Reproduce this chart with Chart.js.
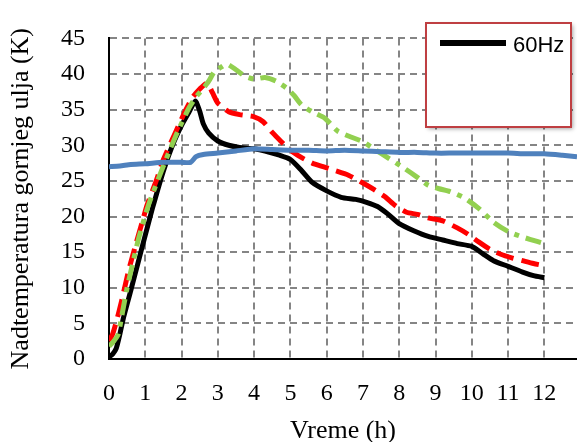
<!DOCTYPE html>
<html>
<head>
<meta charset="utf-8">
<script src="https://cdn.jsdelivr.net/npm/chart.js@4.4.0/dist/chart.umd.min.js"></script>
<style>
    html, body { margin: 0; padding: 0; background: #fff; }
    #wrap { width: 577px; height: 442px; }
</style>
</head>
<body>
<div id="wrap"><canvas id="oilChart" width="577" height="442"></canvas></div>
<script>
const xTicks = [0, 1, 2, 3, 4, 5, 6, 7, 8, 9, 10, 11, 12]
const yTicks = [0, 5, 10, 15, 20, 25, 30, 35, 40, 45]

// plava linija
const blueTime = [0, 0.3, 0.6, 1.0, 1.5, 2.0, 2.25, 2.4, 2.6, 3.0, 3.5, 4.0, 4.5, 5.0, 5.5, 6.0, 6.5, 7.0, 7.5, 8.0, 8.5, 9.0, 9.5, 10.0, 10.5, 11.0, 11.5, 12.0, 12.5, 12.9]
const blueTemp = [27.0, 27.1, 27.3, 27.4, 27.6, 27.6, 27.6, 28.4, 28.7, 28.9, 29.2, 29.5, 29.4, 29.3, 29.3, 29.2, 29.3, 29.2, 29.1, 29.0, 29.0, 28.9, 28.9, 28.9, 28.9, 28.9, 28.8, 28.8, 28.6, 28.4]

// 60Hz
const blackTime = [0, 0.1, 0.2, 0.3, 0.4, 0.6, 0.8, 1.0, 1.2, 1.5, 1.75, 2.0, 2.2, 2.38, 2.5, 2.6, 2.75, 3.0, 3.3, 3.6, 4.0, 4.3, 4.7, 5.0, 5.3, 5.6, 6.0, 6.4, 6.8, 7.1, 7.4, 7.7, 8.0, 8.4, 8.8, 9.2, 9.6, 10.0, 10.3, 10.6, 11.0, 11.4, 11.7, 12.0]
const blackTemp = [0.3, 0.7, 1.5, 3.5, 5.8, 9.6, 13.5, 17.4, 21.2, 26.4, 30.0, 32.8, 34.6, 36.2, 34.8, 33.0, 31.7, 30.6, 30.0, 29.7, 29.5, 29.2, 28.6, 28.0, 26.5, 24.8, 23.6, 22.7, 22.4, 22.0, 21.4, 20.3, 19.0, 18.0, 17.2, 16.7, 16.2, 15.8, 14.8, 13.8, 13.0, 12.2, 11.7, 11.4]

// crvena isprekidana
const redTime = [0, 0.1, 0.2, 0.35, 0.55, 0.75, 0.92, 1.05, 1.3, 1.5, 1.85, 2.1, 2.3, 2.5, 2.7, 2.85, 3.0, 3.3, 3.6, 4.0, 4.25, 4.5, 4.75, 5.0, 5.3, 5.6, 5.9, 6.2, 6.6, 7.0, 7.3, 7.6, 7.9, 8.2, 8.5, 8.8, 9.2, 9.6, 9.9, 10.2, 10.5, 10.8, 11.1, 11.4, 11.7, 12.0]
const redTemp = [2.5, 3.5, 5.2, 8.2, 12.6, 16.3, 19.3, 21.6, 25.0, 28.0, 32.0, 34.8, 36.7, 37.9, 38.7, 37.4, 35.9, 34.7, 34.3, 34.0, 33.3, 31.8, 30.5, 29.3, 28.3, 27.5, 27.0, 26.5, 25.8, 24.7, 23.8, 22.8, 21.5, 20.6, 20.3, 19.8, 19.4, 18.4, 17.5, 16.4, 15.4, 14.7, 14.2, 13.8, 13.4, 13.1]

// zelena crta-tacka
const greenTime = [0, 0.1, 0.25, 0.35, 0.5, 0.68, 0.82, 1.1, 1.4, 1.65, 1.9, 2.2, 2.4, 2.6, 2.75, 2.9, 3.1, 3.25, 3.5, 3.75, 4.0, 4.3, 4.6, 4.9, 5.1, 5.3, 5.6, 5.95, 6.3, 6.6, 7.0, 7.3, 7.7, 8.1, 8.5, 8.8, 9.1, 9.4, 9.8, 10.2, 10.6, 11.0, 11.3, 11.6, 12.0]
const greenTemp = [1.8, 2.3, 3.4, 6.0, 10.0, 14.0, 17.0, 21.8, 25.8, 29.0, 32.0, 35.2, 36.8, 38.0, 39.0, 40.3, 41.0, 41.4, 40.6, 39.7, 39.3, 39.5, 39.0, 38.0, 37.0, 35.7, 34.7, 33.8, 32.0, 31.3, 30.5, 29.5, 28.2, 26.9, 25.5, 24.4, 23.9, 23.5, 22.6, 21.1, 19.2, 17.9, 17.3, 16.8, 16.2]

const toPoints = (times, temps) => times.map((t, i) => ({ x: t, y: temps[i] }))

const serifFont = (size) => ({ family: "'Liberation Serif', 'Times New Roman', serif", size: size, weight: "normal" })

const legendBox = {
    id: "legendBox",
    afterDraw: (chart) => {
        const ctx = chart.ctx
        const left = 426, top = 23, w = 145, h = 104
        ctx.save()
        ctx.shadowColor = "rgba(0, 0, 0, 0.35)"
        ctx.shadowBlur = 4
        ctx.shadowOffsetX = 2
        ctx.shadowOffsetY = 2
        ctx.fillStyle = "#ffffff"
        ctx.fillRect(left, top, w, h)
        ctx.restore()

        ctx.save()
        ctx.strokeStyle = "#bf3f42"
        ctx.lineWidth = 2
        ctx.strokeRect(left, top, w, h)

        const ds = chart.data.datasets.find(d => d.label === "60Hz")
        ctx.strokeStyle = ds.borderColor
        ctx.lineWidth = 6
        ctx.beginPath()
        ctx.moveTo(left + 14, top + 20)
        ctx.lineTo(left + 80, top + 20)
        ctx.stroke()

        ctx.fillStyle = "#000"
        ctx.font = "22px 'Liberation Sans', Arial, sans-serif"
        ctx.textBaseline = "alphabetic"
        ctx.textAlign = "left"
        ctx.fillText(ds.label, left + 87, top + 29)
        ctx.restore()
    }
}

const ctx = document.getElementById("oilChart").getContext("2d")

new Chart(ctx, {
    type: "line",
    data: {
        datasets: [
            {
                label: "",
                data: toPoints(blueTime, blueTemp),
                borderColor: "#4f81bd",
                borderWidth: 5,
                tension: 0.2,
                order: 0
            },
            {
                label: "",
                data: toPoints(greenTime, greenTemp),
                borderColor: "#92d050",
                borderWidth: 5,
                borderDash: [16, 7, 5, 7],
                borderCapStyle: "butt",
                tension: 0.2,
                order: 1
            },
            {
                label: "",
                data: toPoints(redTime, redTemp),
                borderColor: "#ff0000",
                borderWidth: 5,
                borderDash: [18, 8],
                borderCapStyle: "butt",
                tension: 0.2,
                order: 2
            },
            {
                label: "60Hz",
                data: toPoints(blackTime, blackTemp),
                borderColor: "#000000",
                borderWidth: 5,
                tension: 0.2,
                order: 3
            }
        ]
    },
    options: {
        responsive: false,
        animation: false,
        devicePixelRatio: 1,
        layout: { padding: { top: 20, right: 0, bottom: 0, left: 0 } },
        elements: { point: { radius: 0 } },
        plugins: {
            legend: { display: false },
            tooltip: { enabled: false }
        },
        scales: {
            x: {
                type: "linear",
                min: 0,
                max: 12.9,
                afterBuildTicks: (scale) => { scale.ticks = xTicks.map(v => ({ value: v })) },
                afterFit: (scale) => { scale.height = 83 },
                grid: { color: "#858585", lineWidth: 2, drawTicks: false },
                border: { display: true, color: "#000000", width: 2, dash: [7, 5] },
                ticks: { padding: 20, color: "#000", font: serifFont(24), autoSkip: false, maxRotation: 0 },
                title: { display: true, text: "Vreme (h)", color: "#000", font: serifFont(26), padding: { top: 0, bottom: -5 } }
            },
            y: {
                min: 0,
                max: 45,
                afterBuildTicks: (scale) => { scale.ticks = yTicks.map(v => ({ value: v })) },
                afterFit: (scale) => { scale.width = 109 },
                grid: { color: "#858585", lineWidth: 2, drawTicks: false },
                border: { display: true, color: "#000000", width: 2, dash: [7, 5] },
                ticks: { padding: 24, color: "#000", font: serifFont(24) },
                title: { display: true, text: "Nadtemperatura gornjeg ulja (K)", color: "#000", font: serifFont(26), padding: { top: 6, bottom: 0 } }
            }
        }
    },
    plugins: [legendBox]
})
</script>
</body>
</html>
